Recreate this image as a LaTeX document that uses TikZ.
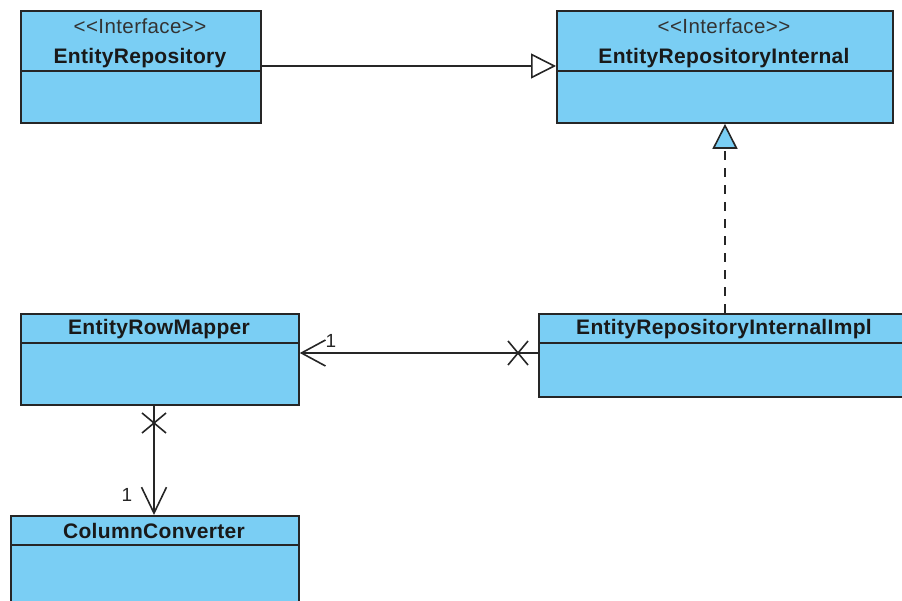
\documentclass[tikz,border=0pt]{standalone}
\usepackage{fontspec}
\setmainfont{Liberation Sans}[Ligatures=TeXOff]
\usetikzlibrary{arrows.meta}
\definecolor{clsblue}{RGB}{122,206,244}
\tikzset{
  cls/.style={draw=black!85, fill=clsblue, line width=1.8pt, rectangle, inner sep=0pt, anchor=north west},
  divider/.style={line width=1.8pt, black!85},
  stereo/.style={font=\fontsize{20.5}{23}\selectfont\addfontfeature{LetterSpace=2}, text=black!80, inner sep=0pt, anchor=base},
  cname/.style={font=\fontsize{21}{24}\selectfont\bfseries\addfontfeature{LetterSpace=1.5}, text=black!90, inner sep=0pt, anchor=base},
  mult/.style={font=\fontsize{19}{22}\selectfont, text=black!85, inner sep=0pt, anchor=base},
  conn/.style={line width=1.6pt, black!85},
  xmark/.style={line width=1.6pt, black!85},
}
\begin{document}
\begin{tikzpicture}[x=1pt,y=-1pt]
\useasboundingbox (0,0) rectangle (902,601);
% EntityRepository
\node[cls, minimum width=240pt, minimum height=112pt] (er) at (20,10) {};
\draw[divider] (er.north west) ++(0,61) -- ++(240,0);
\node[stereo] (erst) at (140,34) {<<Interface>>};
\node[cname] (ern) at (140,64) {EntityRepository};
% EntityRepositoryInternal
\node[cls, minimum width=336pt, minimum height=112pt] (eri) at (556,10) {};
\draw[divider] (eri.north west) ++(0,61) -- ++(336,0);
\node[stereo] (erist) at (724,34) {<<Interface>>};
\node[cname] (erin) at (724,64) {EntityRepositoryInternal};
% EntityRepositoryInternalImpl
\node[cls, minimum width=380pt, minimum height=83pt] (erii) at (538,313) {};
\draw[divider] (erii.north west) ++(0,30) -- ++(380,0);
\node[cname] (eriin) at (724,335) {EntityRepositoryInternalImpl};
% EntityRowMapper
\node[cls, minimum width=278pt, minimum height=91pt] (erm) at (20,313) {};
\draw[divider] (erm.north west) ++(0,30) -- ++(278,0);
\node[cname] (ermn) at (159,335) {EntityRowMapper};
% ColumnConverter
\node[cls, minimum width=288pt, minimum height=100pt] (cc) at (10,515) {};
\draw[divider] (cc.north west) ++(0,30) -- ++(288,0);
\node[cname] (ccn) at (154,538) {ColumnConverter};
% generalization EntityRepository -> EntityRepositoryInternal
\draw[conn, -{Triangle[length=25pt,width=25pt,fill=white,line width=1.6pt]}] (er.east |- 0,66) -- (eri.west |- 0,66);
% realization Impl -> Internal
\draw[conn, dash pattern=on 9pt off 8pt, -{Triangle[length=25pt,width=25pt,fill=clsblue,line width=1.6pt]}] (erii.north -| 725,0) -- (eri.south -| 725,0);
% association Impl -> RowMapper
\draw[conn, -{Straight Barb[length=24pt,width=26pt]}] (erii.west |- 0,353) -- (erm.east |- 0,353);
\coordinate (x1) at (518,353);
\draw[xmark] (x1) ++(-10,-12) -- ++(20,24) (x1) ++(-10,12) -- ++(20,-24);
\node[mult] (m1) at (331,348) {1};
% association RowMapper -> ColumnConverter
\draw[conn, -{Straight Barb[length=26pt,width=25pt]}] (erm.south -| 154,0) -- (cc.north -| 154,0);
\coordinate (x2) at (154,423);
\draw[xmark] (x2) ++(-12,-10) -- ++(24,20) (x2) ++(-12,10) -- ++(24,-20);
\node[mult] (m2) at (127,501) {1};
\end{tikzpicture}
\end{document}
